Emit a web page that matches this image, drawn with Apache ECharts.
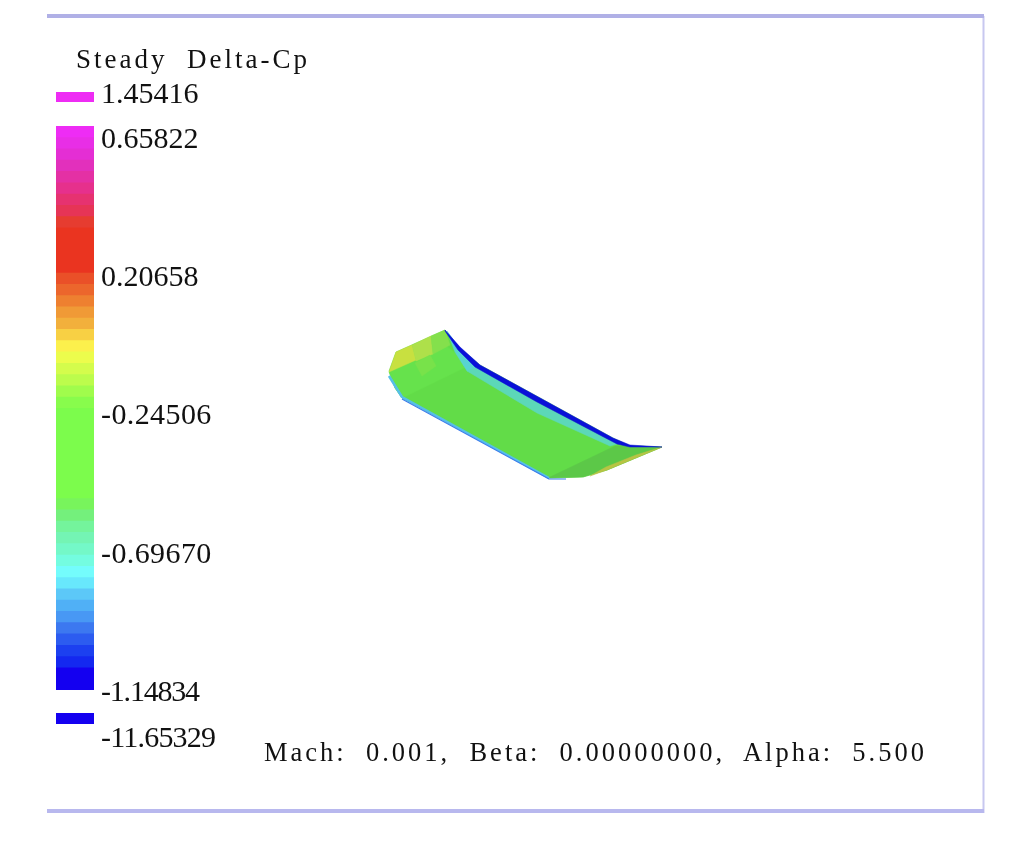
<!DOCTYPE html>
<html><head><meta charset="utf-8">
<style>html,body{margin:0;padding:0;background:#fff}#c{width:1024px;height:842px;filter:blur(0.4px)}svg text{white-space:pre}</style>
<script src="https://cdn.jsdelivr.net/npm/echarts@6/dist/echarts.min.js"></script>
</head><body><div id="c"></div>
<script>
var titleText = 'Steady  Delta-Cp';
var flowText = 'Mach:  0.001,  Beta:  0.00000000,  Alpha:  5.500';
var overLabel = '1.45416';
var underLabel = '-11.65329';
var tickLabels = ['0.65822','0.20658','-0.24506','-0.69670','-1.14834'];
var overColor = '#ee2cf4';
var underColor = '#1400f0';
// colour bands of the scale, top to bottom
var bandColors = [
 '#ee2cf5','#e82ee6','#e42ed4','#e230bc','#e430a4','#e6308c','#e63270','#e63456',
 '#e63c30','#ea3420','#ea3420','#ea3420','#ea3420',
 '#ea5028','#ec662c','#ee8030','#f09a36','#f2b03c','#f8d044','#fcf04c','#ecfc4c','#d4fc4c','#bcfc4c','#a0fc4c','#88fc4c',
 '#7cfc4c','#7cfc4c','#7cfc4c','#7cfc4c','#7cfc4c','#7cfc4c','#7cfc4c','#7cfc4c',
 '#78f45c','#74f07c','#74f49c','#74f4b4','#74f8c8','#74fce0','#74fcfc','#68e8fc','#5cc8f8','#50b0f6','#4898f4','#3c78f0','#2c5cf0','#1c40f0','#1428f0','#1400f0','#1400f0'
];
var wingPatches = [
 {name:'main',       color:'#62dc48', pts:[[445,330],[460,348],[480,365],[613,438],[630,446],[662,447],[607,470],[583,477],[550,478],[402,398],[395,388],[389,371],[396,352]]},
 {name:'root band',  color:'#66e24c', pts:[[389,372],[445,345],[470,365],[402,398],[395,388]]},
 {name:'root outer', color:'#c8e040', pts:[[396,352],[412,345],[416,360],[389,372]]},
 {name:'root mid',   color:'#aee04a', pts:[[412,345],[431,336],[433,354],[416,361]]},
 {name:'root inner', color:'#84e04c', pts:[[431,336],[445,330],[450,345],[433,354]]},
 {name:'root block', color:'#78e24a', pts:[[415,363],[430,355],[436,366],[422,376]]},
 {name:'tip dark',   color:'#5cc848', pts:[[548,478],[615,446],[640,446],[662,447],[607,470],[583,477]]},
 {name:'tip yellow', color:'#b8c444', pts:[[590,476],[607,470],[662,447],[636,455],[606,467]]},
 {name:'teal band',  color:'#5cd8b8', pts:[[477,367],[537,402],[617,444],[610,446],[537,413],[467,371]]},
 {name:'root cyan',  color:'#58d4d0', pts:[[447,331],[460,349],[480,366],[467,371],[455,352]]},
 {name:'blue wedge', color:'#0a10d8', pts:[[445,330],[460,347],[480,365],[613,438],[630,445],[662,447],[630,447],[617,444],[537,402],[475,367],[458,350],[445,331]]}
];
var edgeLines = [
 {color:'#55bfe8', width:2.5, pts:[[389,376],[402,397],[549,478]]},
 {color:'#3c7cec', width:1.2, pts:[[402,399],[549,479],[566,479]]}
];
var frameTop = [[47,16],[984,16]];
var frameBottom = [[47,811],[984,811]];
var frameRight = [[983.5,16],[983.5,813]];

// extra spacing between the characters of each text
var spacing = {};
spacing[titleText]=3; spacing[flowText]=3;
spacing['-1.14834']=-1.2; spacing['-11.65329']=-0.8; spacing['-0.24506']=0.4; spacing['-0.69670']=0.4;

var serif = '"Liberation Serif"';
function T(x,y,t,size){return {type:'text',left:x,top:y,style:{text:t,fontFamily:serif,fontSize:size,fill:'#111'}};}
var graphics = [T(76,45,titleText,27),T(101,77,overLabel,30),T(101,721,underLabel,30),T(264,738,flowText,26.5)];
var tickY=[122,260,398,537,675];
tickLabels.forEach(function(l,i){graphics.push(T(101,tickY[i],l,30));});

function poly(params,api){
  var p = wingPatches[params.dataIndex];
  return {type:'polygon',shape:{points:p.pts.map(function(q){return api.coord(q);})},style:{fill:p.color,stroke:p.color,lineWidth:0.5}};
}
function band(params,api){
  var i = api.value(1), c = api.coord([0,i]), s = api.size([1,1]);
  var last = i === bandColors.length-1;
  return {type:'rect',shape:{x:c[0],y:c[1]-s[1]/2,width:s[0],height:s[1]+(last?0:1)},style:{fill:bandColors[i]}};
}
function lineSeries(pts,color,width){
  return {type:'line',xAxisIndex:0,yAxisIndex:0,data:pts,showSymbol:false,symbol:'none',silent:true,z:5,
    lineStyle:{color:color,width:width,join:'round'}};
}
var series = [
 {type:'custom',xAxisIndex:0,yAxisIndex:0,renderItem:poly,data:wingPatches.map(function(p){return [p.pts[0][0],p.pts[0][1]];}),silent:true,z:3,clip:false},
 {type:'custom',xAxisIndex:1,yAxisIndex:1,renderItem:band,silent:true,clip:false,encode:{x:0,y:1},
  data:bandColors.map(function(c,i){return [0,i];})},
 {type:'bar',xAxisIndex:2,yAxisIndex:2,barWidth:'100%',silent:true,data:[{value:1,itemStyle:{color:overColor}}]},
 {type:'bar',xAxisIndex:3,yAxisIndex:3,barWidth:'100%',silent:true,data:[{value:1,itemStyle:{color:underColor}}]},
 lineSeries(frameRight,'#c8c8f0',2),lineSeries(frameTop,'#b0b0e6',4),lineSeries(frameBottom,'#b8b8ee',4)
];
edgeLines.forEach(function(e){series.push(lineSeries(e.pts,e.color,e.width));});
function hiddenVal(max,extra){return Object.assign({type:'value',min:0,max:max,show:false},extra||{});}
var chart = echarts.init(document.getElementById('c'),null,{renderer:'svg'});
function applySpacing(){
  document.querySelectorAll('#c svg text').forEach(function(n){
    var s = spacing[n.textContent];
    if(s) n.setAttribute('letter-spacing',s);
    n.setAttribute('xml:space','preserve');
  });
}
chart.on('finished',applySpacing);
chart.setOption({
 animation:false,backgroundColor:'#fff',
 grid:[
  {left:0,top:0,width:1024,height:842},
  {left:56,top:126,width:38,height:564},
  {left:56,top:92,width:38,height:10},
  {left:56,top:713,width:38,height:11}
 ],
 xAxis:[hiddenVal(1024,{gridIndex:0}),hiddenVal(1,{gridIndex:1}),hiddenVal(1,{gridIndex:2}),hiddenVal(1,{gridIndex:3})],
 yAxis:[
  {type:'value',min:0,max:842,inverse:true,show:false,gridIndex:0},
  {type:'category',inverse:true,show:false,gridIndex:1,data:bandColors.map(function(c,i){return i;})},
  {type:'category',show:false,gridIndex:2,data:['over']},
  {type:'category',show:false,gridIndex:3,data:['under']}
 ],
 series:series,
 graphic:graphics
});
chart.getZr().flush();
applySpacing();
</script></body></html>
